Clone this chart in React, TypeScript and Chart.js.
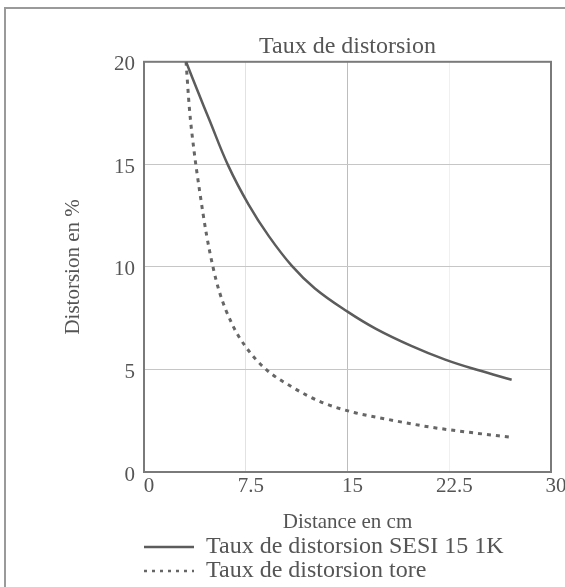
import React, { useEffect, useRef } from "react";
import { Chart, registerables } from "chart.js";

Chart.register(...registerables);

const chartTitle = "Taux de distorsion";
const xAxisTitle = "Distance en cm";
const yAxisTitle = "Distorsion en %";
const seriesNames = ["Taux de distorsion SESI 15 1K", "Taux de distorsion tore"];

const xTicks = [0, 7.5, 15, 22.5, 30];
const yTicks = [0, 5, 10, 15, 20];

const sesiDistance = [3.1, 4.0, 4.8, 6.2, 7.7, 9.2, 10.9, 12.6, 15.0, 17.1, 19.7, 22.2, 24.6, 27.1];
const sesiDistortion = [20, 18.5, 17.2, 14.95, 13.05, 11.5, 10.05, 8.95, 7.82, 6.98, 6.15, 5.48, 4.97, 4.5];

const toreDistance = [3.1, 3.35, 3.7, 4.1, 4.6, 5.1, 5.55, 6.5, 7.5, 9.0, 10.9, 13.1, 15.5, 17.7, 21.0, 24.4, 27.0];
const toreDistortion = [20, 17.7, 15.6, 13.7, 11.6, 9.95, 8.8, 7.2, 6.1, 5.0, 4.15, 3.4, 2.9, 2.6, 2.2, 1.9, 1.7];

const FONT = "'Liberation Serif', 'Times New Roman', serif";
const TEXT = "#555";

const toPoints = (xs: number[], ys: number[]) => xs.map((x, i) => ({ x, y: ys[i] }));

const plotBorder = {
  id: "plotBorder",
  beforeDatasetsDraw(chart: any) {
    const { ctx, chartArea } = chart;
    ctx.save();
    ctx.strokeStyle = "#7a7a7a";
    ctx.lineWidth = 2;
    ctx.strokeRect(chartArea.left, chartArea.top, chartArea.right - chartArea.left, chartArea.bottom - chartArea.top);
    ctx.restore();
  },
};

export default function App() {
  const ref = useRef<HTMLCanvasElement | null>(null);

  useEffect(() => {
    if (!ref.current) return;
    const chart = new Chart(ref.current, {
      type: "line",
      data: {
        datasets: [
          {
            label: seriesNames[0],
            data: toPoints(sesiDistance, sesiDistortion),
            borderColor: "#5c5c5c",
            backgroundColor: "#5c5c5c",
            borderWidth: 2.5,
            pointRadius: 0,
            tension: 0.4,
            fill: false,
            pointStyle: "line",
          },
          {
            label: seriesNames[1],
            data: toPoints(toreDistance, toreDistortion),
            borderColor: "#666",
            backgroundColor: "#666",
            borderWidth: 3,
            borderDash: [4, 5],
            pointRadius: 0,
            cubicInterpolationMode: "monotone",
            fill: false,
            pointStyle: "line",
          },
        ],
      },
      options: {
        responsive: false,
        animation: false,
        layout: { padding: { left: 0, right: 14, top: 0, bottom: -6 } },
        plugins: {
          title: {
            display: true,
            text: chartTitle,
            fullSize: false,
            color: TEXT,
            font: { family: FONT, size: 24, weight: "normal" },
            padding: { top: 32, bottom: 1 },
          },
          legend: {
            display: true,
            position: "bottom",
            align: "start",
            fullSize: false,
            labels: {
              usePointStyle: true,
              pointStyleWidth: 50,
              padding: 0,
              color: TEXT,
              font: { family: FONT, size: 24 },
              generateLabels: (ch: any) => {
                const items = Chart.defaults.plugins.legend.labels.generateLabels(ch);
                items.forEach((it: any, i: number) => {
                  const ds: any = ch.data.datasets[i];
                  it.lineDash = i === 1 ? [3, 5] : [];
                  it.lineWidth = i === 1 ? 2.5 : ds.borderWidth;
                  it.strokeStyle = ds.borderColor;
                  it.fillStyle = ds.borderColor;
                });
                return items;
              },
            },
          },
          tooltip: { enabled: false },
        },
        scales: {
          x: {
            type: "linear",
            min: 0,
            max: 30,
            afterBuildTicks: (scale: any) => {
              scale.ticks = xTicks.map((v) => ({ value: v }));
            },
            afterFit: (scale: any) => {
              scale.height = 63;
            },
            border: { display: false },
            grid: {
              drawTicks: false,
              lineWidth: 1,
              color: (c: any) => {
                const v = c.tick?.value;
                if (v === 15) return "#bdbdbd";
                if (v === 7.5) return "#e2e2e2";
                if (v === 22.5) return "#f0f0f0";
                return "rgba(0,0,0,0)";
              },
            },
            ticks: {
              padding: 2,
              labelOffset: 5,
              color: TEXT,
              font: { family: FONT, size: 21 },
              maxRotation: 0,
              autoSkip: false,
            },
            title: {
              display: true,
              text: xAxisTitle,
              color: TEXT,
              font: { family: FONT, size: 21 },
              padding: { top: 0, bottom: 0 },
            },
          },
          y: {
            type: "linear",
            min: 0,
            max: 20,
            afterBuildTicks: (scale: any) => {
              scale.ticks = yTicks.map((v) => ({ value: v }));
            },
            afterFit: (scale: any) => {
              scale.width = 144;
            },
            border: { display: false },
            grid: {
              drawTicks: false,
              lineWidth: 1,
              color: (c: any) => {
                const v = c.tick?.value;
                if (v === 0 || v === 20) return "rgba(0,0,0,0)";
                return "#c6c6c6";
              },
            },
            ticks: {
              padding: 9,
              labelOffset: 3,
              color: TEXT,
              font: { family: FONT, size: 21 },
              autoSkip: false,
            },
            title: {
              display: true,
              text: yAxisTitle,
              color: TEXT,
              font: { family: FONT, size: 21 },
              padding: { top: 61, bottom: 0 },
            },
          },
        },
      },
      plugins: [plotBorder],
    });
    return () => chart.destroy();
  }, []);

  return (
    <div style={{ position: "absolute", left: 0, top: 0, width: 565, height: 587, overflow: "hidden", background: "#fff" }}>
      <div
        style={{
          position: "absolute",
          left: 4,
          top: 7,
          width: 600,
          height: 600,
          borderLeft: "2px solid #9a9a9a",
          borderTop: "2px solid #9a9a9a",
        }}
      />
      <canvas ref={ref} width={565} height={587} style={{ position: "absolute", left: 0, top: 0 }} />
    </div>
  );
}
